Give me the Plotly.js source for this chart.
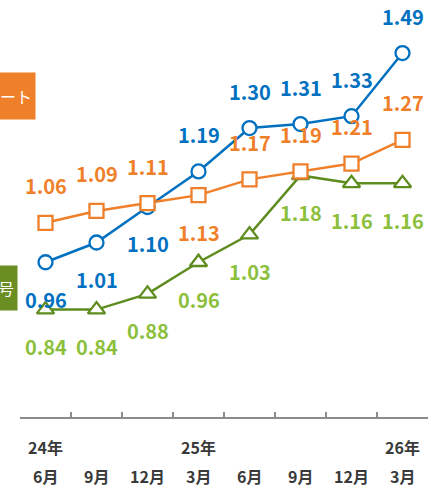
<!DOCTYPE html>
<html>
<head>
<meta charset="utf-8">
<script src="https://cdn.plot.ly/plotly-3.0.1.min.js"></script>
<style>html,body{margin:0;padding:0;background:#fff;}#chart{width:431px;height:487px;}</style>
</head>
<body>
<div id="chart"></div>
<script>
const categories = ['24年6月','24年9月','24年12月','25年3月','25年6月','25年9月','25年12月','26年3月'];
const yearLabels = ['24年','','','25年','','','','26年'];
const monthLabels = ['6月','9月','12月','3月','6月','9月','12月','3月'];
const blueValues = [0.96, 1.01, 1.10, 1.19, 1.30, 1.31, 1.33, 1.49];
const orangeValues = [1.06, 1.09, 1.11, 1.13, 1.17, 1.19, 1.21, 1.27];
const greenValues = [0.84, 0.84, 0.88, 0.96, 1.03, 1.18, 1.16, 1.16];
const orangeBoxText = 'レート';
const greenBoxText = '1号';

// label placement (1 = above, -1 = below)
const bluePos = [-1, -1, -1, 1, 1, 1, 1, 1];
const orangePos = [1, 1, 1, -1, 1, 1, 1, 1];
const greenPos = [-1, -1, -1, -1, -1, -1, -1, -1];

const BLUE = '#0070C0', ORANGE = '#F07F2A', GREEN = '#5E8C1E', GREEN_TXT = '#8CBF3C';
const FONT = '"Noto Sans CJK JP", "Noto Sans", sans-serif';

function trace(vals, color, symbol, size) {
  return {
    x: categories, y: vals, type: 'scatter', mode: 'lines+markers',
    line: {color: color, width: 2.5},
    marker: {symbol: symbol, size: size, color: '#fff', line: {color: color, width: 2.3}},
    hoverinfo: 'none', cliponaxis: false
  };
}
const data = [
  trace(greenValues, GREEN, 'triangle-up', 15),
  trace(blueValues, BLUE, 'circle', 14),
  trace(orangeValues, ORANGE, 'square', 14)
];

const annotations = [];
function addLabels(vals, pos, color) {
  vals.forEach((v, i) => {
    annotations.push({
      x: categories[i], y: v, xref: 'x', yref: 'y', text: v.toFixed(2),
      showarrow: false, yshift: 37 * pos[i],
      font: {family: FONT, size: 20, color: color, weight: 'bold'}
    });
  });
}
addLabels(blueValues, bluePos, BLUE);
addLabels(orangeValues, orangePos, ORANGE);
addLabels(greenValues, greenPos, GREEN_TXT);

categories.forEach((c, i) => {
  if (yearLabels[i]) {
    annotations.push({x: c, xref: 'x', y: 0, yref: 'paper', yanchor: 'middle', yshift: -30,
      text: yearLabels[i], showarrow: false,
      font: {family: FONT, size: 16, color: '#3a3a3a', weight: 'bold'}});
  }
  annotations.push({x: c, xref: 'x', y: 0, yref: 'paper', yanchor: 'middle', yshift: -59,
    text: monthLabels[i], showarrow: false,
    font: {family: FONT, size: 16, color: '#3a3a3a', weight: 'bold'}});
});

annotations.push({x: 0, xref: 'paper', xanchor: 'right', xshift: 16,
  y: 0.789, yref: 'paper', yanchor: 'middle',
  text: orangeBoxText, showarrow: false, bgcolor: ORANGE, borderpad: 3, height: 40,
  font: {family: FONT, size: 16, color: '#fff'}});
annotations.push({x: 0, xref: 'paper', xanchor: 'right', xshift: -2,
  y: 0.317, yref: 'paper', yanchor: 'middle',
  text: greenBoxText, showarrow: false, bgcolor: '#6A8E22', borderpad: 3, height: 38,
  font: {family: FONT, size: 16, color: '#fff'}});

const layout = {
  width: 431, height: 487,
  margin: {l: 20, r: 3, t: 10, b: 70},
  paper_bgcolor: '#fff', plot_bgcolor: '#fff',
  showlegend: false,
  xaxis: {
    type: 'category', range: [-0.5, 7.5], showgrid: false, zeroline: false,
    showline: true, linecolor: '#8c8c8c', linewidth: 1.5,
    ticks: 'inside', tickson: 'boundaries', ticklen: 5, tickcolor: '#8c8c8c', tickwidth: 1.5,
    showticklabels: false, fixedrange: true
  },
  yaxis: {range: [0.568, 1.599], visible: false, fixedrange: true},
  annotations: annotations
};
Plotly.newPlot('chart', data, layout, {staticPlot: true});
</script>
</body>
</html>
